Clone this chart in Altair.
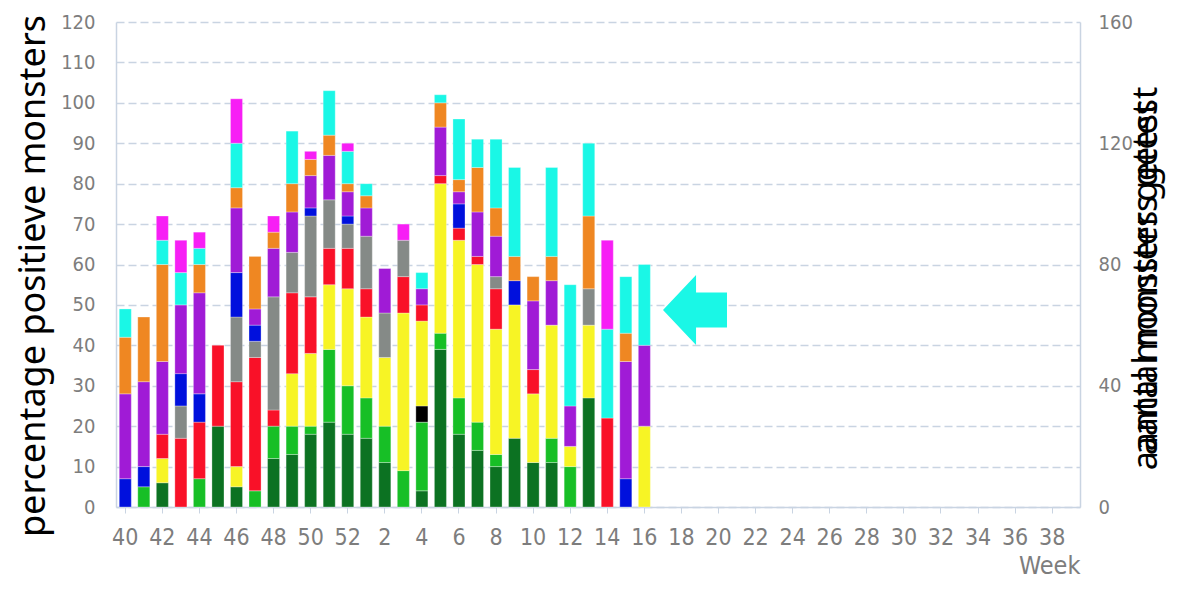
import altair as alt
import pandas as pd

# ---- data -------------------------------------------------------------
all_weeks = [str(w) for w in list(range(40, 53)) + list(range(1, 40))]
data_weeks = [str(w) for w in list(range(40, 53)) + list(range(1, 17))]
tick_weeks = [str(w) for w in list(range(40, 53, 2)) + list(range(2, 40, 2))]

left_ticks = [0, 10, 20, 30, 40, 50, 60, 70, 80, 90, 100, 110, 120]
right_ticks = [0, 40, 80, 120, 160]

series_names = ["s01", "s02", "s03", "s04", "s05", "s06",
                "s07", "s08", "s09", "s10", "s11"]
series_colors = ["#0c7222", "#17bf26", "#000000", "#f7f425", "#f91128",
                 "#858a87", "#0010dd", "#a01bd6", "#ef8722", "#1af7e6", "#f71ef5"]

#      40 41 42 43 44 45 46 47 48 49 50 51 52  1  2  3  4  5  6  7  8  9 10 11 12 13 14 15 16
s01 = [0, 0, 6, 0, 0, 20, 5, 0, 12, 13, 18, 21, 18, 17, 11, 0, 4, 39, 18, 14, 10, 17, 11, 11, 0, 27, 0, 0, 0]
s02 = [0, 5, 0, 0, 7, 0, 0, 4, 8, 7, 2, 18, 12, 10, 9, 9, 17, 4, 9, 7, 3, 0, 0, 6, 10, 0, 0, 0, 0]
s03 = [0, 0, 0, 0, 0, 0, 0, 0, 0, 0, 0, 0, 0, 0, 0, 0, 4, 0, 0, 0, 0, 0, 0, 0, 0, 0, 0, 0, 0]
s04 = [0, 0, 6, 0, 0, 0, 5, 0, 0, 13, 18, 16, 24, 20, 17, 39, 21, 37, 39, 39, 31, 33, 17, 28, 5, 18, 0, 0, 20]
s05 = [0, 0, 6, 17, 14, 20, 21, 33, 4, 20, 14, 9, 10, 7, 0, 9, 4, 2, 3, 2, 10, 0, 6, 0, 0, 0, 22, 0, 0]
s06 = [0, 0, 0, 8, 0, 0, 16, 4, 28, 10, 20, 12, 6, 13, 11, 9, 0, 0, 0, 0, 3, 0, 0, 0, 0, 9, 0, 0, 0]
s07 = [7, 5, 0, 8, 7, 0, 11, 4, 0, 0, 2, 0, 2, 0, 0, 0, 0, 0, 6, 0, 0, 6, 0, 0, 0, 0, 0, 7, 0]
s08 = [21, 21, 18, 17, 25, 0, 16, 4, 12, 10, 8, 11, 6, 7, 11, 0, 4, 12, 3, 11, 10, 0, 17, 11, 10, 0, 0, 29, 20]
s09 = [14, 16, 24, 0, 7, 0, 5, 13, 4, 7, 4, 5, 2, 3, 0, 0, 0, 6, 3, 11, 7, 6, 6, 6, 0, 18, 0, 7, 0]
s10 = [7, 0, 6, 8, 4, 0, 11, 0, 0, 13, 0, 11, 8, 3, 0, 0, 4, 2, 15, 7, 17, 22, 0, 22, 30, 18, 22, 14, 20]
s11 = [0, 0, 6, 8, 4, 0, 11, 0, 4, 0, 2, 0, 2, 0, 0, 4, 0, 0, 0, 0, 0, 0, 0, 0, 0, 0, 22, 0, 0]

series_values = [s01, s02, s03, s04, s05, s06, s07, s08, s09, s10, s11]

left_title = "percentage positieve monsters"
right_title = "aantal monsters getest"
x_title = "Week"

rows = []
for i, (name, vals) in enumerate(zip(series_names, series_values)):
    for w, v in zip(data_weeks, vals):
        if v > 0:
            rows.append({"week": w, "serie": name, "pct": v, "ord": i})
df = pd.DataFrame(rows)

# ---- styling ----------------------------------------------------------
W, H = 964, 485
LABEL_FONT = "'Liberation Sans Narrow', 'DejaVu Sans Condensed', sans-serif"
LABEL_COLOR = "#7d7d7d"
AXIS_LINE = "#c9d4e2"

xscale = alt.Scale(domain=all_weeks, paddingInner=0.35, paddingOuter=0.175)

bars = alt.Chart(df).mark_bar(stroke="#ffffff", strokeWidth=0.5, strokeOpacity=0.6).encode(
    x=alt.X("week:O", scale=xscale, sort=all_weeks,
            axis=alt.Axis(values=tick_weeks, labelAngle=0, labelFont=LABEL_FONT,
                          labelFontSize=23, labelColor=LABEL_COLOR, labelPadding=13,
                          tickSize=6, tickColor=AXIS_LINE, domainColor=AXIS_LINE,
                          domainWidth=1.5, grid=False,
                          title=x_title, titleFont=LABEL_FONT, titleFontSize=25,
                          titleFontWeight="normal", titleColor=LABEL_COLOR,
                          titleAnchor="end", titleAlign="right", titleX=W, titleY=66,
                          titleBaseline="alphabetic")),
    y=alt.Y("pct:Q", stack="zero", scale=alt.Scale(domain=[0, 120], nice=False),
            axis=alt.Axis(values=left_ticks, title=None, labelFont=LABEL_FONT,
                          labelFontSize=20, labelColor=LABEL_COLOR, labelPadding=21,
                          ticks=False, domainColor=AXIS_LINE, domainWidth=1.5,
                          grid=True, gridColor="#c9d4e2", gridDash=[8, 4],
                          gridWidth=1.5)),
    color=alt.Color("serie:N", scale=alt.Scale(domain=series_names, range=series_colors),
                    legend=None),
    order=alt.Order("ord:Q", sort="ascending"),
)

right_df = pd.DataFrame({"week": ["40", "40"], "n": [right_ticks[0], right_ticks[-1]]})
right_axis = alt.Chart(right_df).mark_point(opacity=0).encode(
    x=alt.X("week:O", scale=xscale, sort=all_weeks),
    y=alt.Y("n:Q", scale=alt.Scale(domain=[right_ticks[0], right_ticks[-1]], nice=False),
            axis=alt.Axis(orient="right", values=right_ticks, title=None,
                          labelFont=LABEL_FONT, labelFontSize=20, labelColor=LABEL_COLOR,
                          labelPadding=18, ticks=False, domainColor=AXIS_LINE,
                          domainWidth=1.5, grid=False)),
)

one = pd.DataFrame({"a": [0]})

arrow = alt.Chart(one).mark_point(
    shape="M -0.914 0 L 0.03 -1 L 0.03 -0.5 L 0.914 -0.5 L 0.914 0.5 L 0.03 0.5 L 0.03 1 Z",
    filled=True, fill="#1af7e6", stroke=None, opacity=1,
).encode(x=alt.value(579), y=alt.value(288), size=alt.value(4900))

ltitle = alt.Chart(one).mark_text(
    text=left_title, angle=270, font="Noto Sans", fontSize=36, color="#000000",
    align="center", baseline="middle",
).encode(x=alt.value(-82), y=alt.value(254))

rtitle1 = alt.Chart(one).mark_text(
    text=right_title, angle=270, font="Noto Sans", fontSize=34, color="#000000",
    align="center", baseline="middle",
).encode(x=alt.value(1031), y=alt.value(264))

rtitle2 = alt.Chart(one).mark_text(
    text=right_title, angle=270, font="Noto Sans", fontSize=34, color="#000000",
    align="center", baseline="middle",
).encode(x=alt.value(1031), y=alt.value(249))

chart = alt.layer(bars, right_axis, arrow, ltitle, rtitle1, rtitle2).resolve_scale(
    y="independent"
).properties(
    width=W, height=H,
    autosize=alt.AutoSizeParams(type="none"),
    padding={"left": 108, "top": 14, "right": 91, "bottom": 74},
).configure_view(stroke=None)

chart.save("out.html", embed_options={"renderer": "svg", "actions": False})
